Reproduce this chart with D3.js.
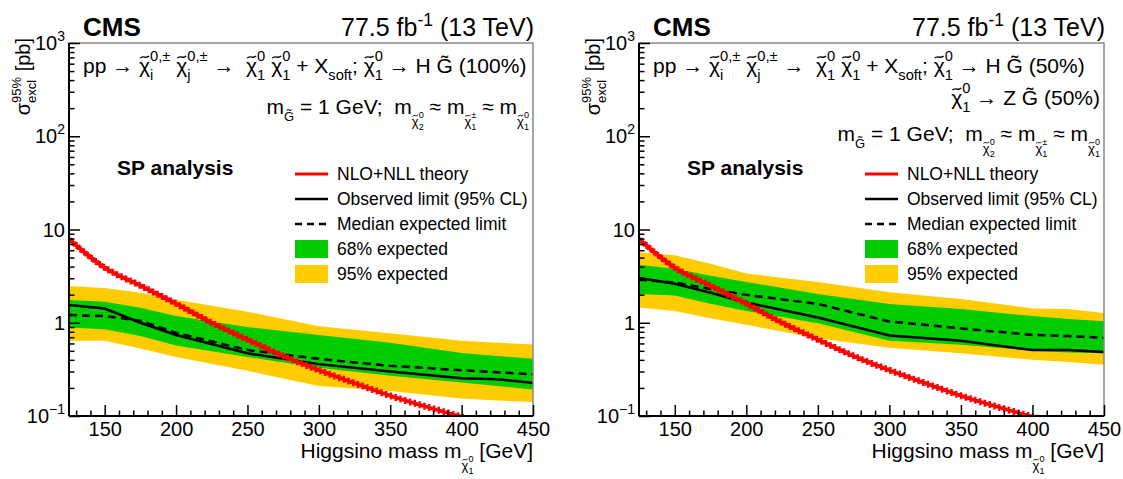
<!DOCTYPE html>
<html>
<head>
<meta charset="utf-8">
<script src="https://cdn.jsdelivr.net/npm/d3@7"></script>
<style>
  body { margin: 0; background: #fff; }
  text { font-family: "Liberation Sans", Arial, Helvetica, sans-serif; fill: #000; }
</style>
</head>
<body>
<script>
// Punti di massa (GeV) per i limiti
var mass = [125, 150, 175, 200, 250, 300, 350, 400, 425, 450];

// Pannello sinistro: H G~ (100%)
var obsL = [1.55, 1.42, 1.0, 0.74, 0.47, 0.36, 0.30, 0.254, 0.248, 0.226];
var expL = [1.21, 1.18, 1.05, 0.78, 0.51, 0.41, 0.345, 0.31, 0.295, 0.28];
var up1L = [1.75, 1.68, 1.45, 1.18, 0.90, 0.74, 0.61, 0.475, 0.44, 0.41];
var dn1L = [0.89, 0.85, 0.72, 0.57, 0.43, 0.33, 0.27, 0.228, 0.21, 0.192];
var up2L = [2.48, 2.36, 2.1, 1.77, 1.31, 0.92, 0.77, 0.64, 0.61, 0.586];
var dn2L = [0.64, 0.64, 0.53, 0.43, 0.305, 0.21, 0.185, 0.154, 0.147, 0.141];

// Pannello destro: H G~ (50%), Z G~ (50%)
var obsR = [3.02, 2.62, 2.1, 1.65, 1.14, 0.73, 0.64, 0.51, 0.51, 0.485];
var expR = [2.9, 2.7, 2.3, 1.99, 1.59, 1.03, 0.87, 0.74, 0.72, 0.69];
var up1R = [4.2, 3.8, 3.2, 2.74, 2.04, 1.59, 1.4, 1.18, 1.1, 1.04];
var dn1R = [2.04, 1.96, 1.6, 1.34, 0.99, 0.64, 0.58, 0.50, 0.48, 0.47];
var up2R = [5.7, 5.3, 4.3, 3.37, 2.74, 2.13, 1.8, 1.42, 1.4, 1.27];
var dn2R = [1.46, 1.34, 1.12, 0.95, 0.68, 0.54, 0.47, 0.40, 0.38, 0.355];

// Sezione d'urto teorica NLO+NLL (pb)
var thMass = [125, 150, 175, 200, 225, 250, 275, 300, 325, 350, 375, 400, 425, 450];
var thXsec = [7.9, 3.9, 2.5, 1.6, 1.0, 0.66, 0.44, 0.31, 0.225, 0.165, 0.126, 0.098, 0.076, 0.06];

// Etichette degli assi
var xMajor = [150, 200, 250, 300, 350, 400, 450];
var yTickVals = [0.1, 1, 10, 100, 1000];
var yTickBase = ["10", "1", "10", "10", "10"];
var yTickExp = ["\u22121", "", "", "2", "3"];

var legendLabels = ["NLO+NLL theory", "Observed limit (95% CL)", "Median expected limit", "68% expected", "95% expected"];

var svg = d3.select("body").append("svg").attr("width", 1123).attr("height", 479);

// Testo con apici/pedici composto pezzo per pezzo
function rich(g, parts, x, y, size, opt) {
  opt = opt || {};
  var grp = g.append("g");
  var cx = 0;
  parts.forEach(function (p) {
    if (typeof p === "string") p = { t: p };
    var items = p.stack || [p];
    var w = 0;
    items.forEach(function (it) {
      var fs = (it.s || 1) * size, by = (it.dy || 0) * size;
      var el = grp.append("text")
        .attr("x", cx)
        .attr("y", by)
        .style("font-size", fs + "px")
        .style("font-weight", opt.bold ? "bold" : "normal")
        .style("white-space", "pre")
        .text(it.t);
      var wi = el.node().getComputedTextLength();
      if (it.tilde) {
        // tilde disegnata sopra la lettera
        var tw = fs * 0.42, a = fs * 0.055, tx = cx + (wi - tw) / 2, ty = by - fs * 0.76;
        grp.append("path")
          .attr("d", "M" + tx + "," + (ty + a) + "C" + (tx + tw / 3) + "," + (ty - 2.2 * a) + " " +
            (tx + 2 * tw / 3) + "," + (ty + 2.2 * a) + " " + (tx + tw) + "," + (ty - a))
          .attr("fill", "none").attr("stroke", "#000").attr("stroke-width", Math.max(0.8, fs * 0.065));
      }
      w = Math.max(w, wi);
    });
    cx += w;
  });
  var sh = opt.anchor === "end" ? -cx : (opt.anchor === "middle" ? -cx / 2 : 0);
  grp.attr("transform", "translate(" + x + "," + y + ")" +
    (opt.rotate ? " rotate(" + opt.rotate + ")" : "") + " translate(" + sh + ",0)");
  return cx;
}

// chi tilde con apice e pedice sovrapposti
function chi(sup, sub, s, dy) {
  s = s || 1; dy = dy || 0;
  return [{ t: "\u03c7", s: s, dy: dy, tilde: true },
    { stack: [{ t: sup, s: s * 0.7, dy: dy - 0.55 * s }, { t: sub, s: s * 0.7, dy: dy + 0.32 * s }] }];
}

function drawPanel(p) {
  var g = svg.append("g");
  var x = d3.scaleLinear().domain([125, 450]).range([p.x0, p.x1]);
  var y = d3.scaleLog().domain([0.1, 1000]).range([416, 43]);

  var clipId = "clip" + p.id;
  svg.append("clipPath").attr("id", clipId).append("rect")
    .attr("x", p.x0).attr("y", 43).attr("width", p.x1 - p.x0).attr("height", 416 - 43);
  var plot = g.append("g").attr("clip-path", "url(#" + clipId + ")");

  var band = function (lo, hi) {
    return d3.area().x(function (d, i) { return x(mass[i]); })
      .y0(function (d, i) { return y(lo[i]); })
      .y1(function (d, i) { return y(hi[i]); })(mass);
  };
  plot.append("path").attr("d", band(p.dn2, p.up2)).attr("fill", "#ffcc00");
  plot.append("path").attr("d", band(p.dn1, p.up1)).attr("fill", "#00cc00");

  var line = function (vals) {
    return d3.line().x(function (d, i) { return x(mass[i]); })
      .y(function (d, i) { return y(vals[i]); })(mass);
  };
  plot.append("path").attr("d", line(p.exp)).attr("fill", "none")
    .attr("stroke", "#000").attr("stroke-width", 2.5).attr("stroke-dasharray", "8,5");
  plot.append("path").attr("d", line(p.obs)).attr("fill", "none")
    .attr("stroke", "#000").attr("stroke-width", 2.5);

  // curva teorica con marcatori a croce
  var th = plot.append("path")
    .attr("d", d3.line().curve(d3.curveMonotoneX)
      .x(function (d, i) { return x(thMass[i]); })
      .y(function (d, i) { return y(thXsec[i]); })(thMass))
    .attr("fill", "none").attr("stroke", "#ff0000").attr("stroke-width", 2.5);
  var node = th.node(), len = node.getTotalLength();
  for (var l = 0; l <= len; l += 5) {
    var pt = node.getPointAtLength(l);
    plot.append("path")
      .attr("d", "M" + (pt.x - 3.5) + "," + pt.y + "h7M" + pt.x + "," + (pt.y - 3.5) + "v7")
      .attr("stroke", "#ff0000").attr("stroke-width", 2.4);
  }

  // cornice
  g.append("rect").attr("x", p.x0).attr("y", 43).attr("width", p.x1 - p.x0).attr("height", 373)
    .attr("fill", "none").attr("stroke", "#888").attr("stroke-width", 1.5);

  // asse x
  var xMinor = d3.range(130, 451, 10).filter(function (v) { return v % 50 !== 0; });
  var ax = g.append("g").attr("transform", "translate(0,416)");
  ax.call(d3.axisBottom(x).tickValues(xMinor).tickSize(-5.5).tickFormat(""));
  ax.append("g").call(d3.axisBottom(x).tickValues(xMajor).tickSize(-11).tickPadding(6));
  ax.selectAll(".domain").remove();
  ax.selectAll("line").attr("stroke", "#000").attr("stroke-width", 1.5);
  ax.selectAll("text").style("font-size", "20px").attr("fill", "#000");

  // asse y
  var yMinor = y.ticks().filter(function (v) { return yTickVals.indexOf(v) < 0; });
  var ay = g.append("g").attr("transform", "translate(" + p.x0 + ",0)");
  ay.call(d3.axisLeft(y).tickValues(yMinor).tickSize(-5.5).tickFormat(""));
  ay.append("g").call(d3.axisLeft(y).tickValues(yTickVals).tickSize(-11).tickFormat(""));
  ay.selectAll(".domain").remove();
  ay.selectAll("line").attr("stroke", "#000").attr("stroke-width", 1.5);
  yTickVals.forEach(function (v, i) {
    var parts = [yTickBase[i]];
    if (yTickExp[i]) parts.push({ t: yTickExp[i], s: 0.7, dy: -0.45 });
    rich(g, parts, p.x0 - 4, y(v) + 7, 20, { anchor: "end" });
  });

  g.append("line").attr("x1", p.x0).attr("x2", p.x1).attr("y1", 416).attr("y2", 416)
    .attr("stroke", "#000").attr("stroke-width", 2);
  g.append("line").attr("x1", p.x0).attr("x2", p.x0).attr("y1", 43).attr("y2", 416)
    .attr("stroke", "#000").attr("stroke-width", 2);

  // titoli degli assi
  rich(g, ["\u03c3", { stack: [{ t: "95%", s: 0.65, dy: -0.45 }, { t: "excl", s: 0.65, dy: 0.3 }] }, " [pb]"],
    p.x0 - 39, 38, 20, { anchor: "end", rotate: -90 });
  rich(g, ["Higgsino mass m"].concat(chi("0", "1", 0.62, 0.55), [" [GeV]"]),
    p.x1, 458, 21, { anchor: "end" });

  // intestazione
  rich(g, ["CMS"], p.x0 + 14, 36, 26, { bold: true });
  rich(g, ["77.5 fb", { t: "-1", s: 0.7, dy: -0.42 }, " (13 TeV)"], p.x1 + 1, 36, 25, { anchor: "end" });

  p.header.forEach(function (h) {
    rich(g, h.parts, h.anchor === "end" ? p.x1 - 4 : p.x0 + 14, h.y, 21, { anchor: h.anchor });
  });

  rich(g, ["SP analysis"], p.x0 + 48, 175, 21, { bold: true });

  // legenda
  var lx = p.x0 + 226, rows = [174, 199, 224, 249, 274];
  legendLabels.forEach(function (lab, i) {
    var ry = rows[i];
    if (i === 0) {
      g.append("line").attr("x1", lx).attr("x2", lx + 33).attr("y1", ry).attr("y2", ry)
        .attr("stroke", "#ff0000").attr("stroke-width", 3);
    } else if (i < 3) {
      g.append("line").attr("x1", lx).attr("x2", lx + 33).attr("y1", ry).attr("y2", ry)
        .attr("stroke", "#000").attr("stroke-width", 2.5)
        .attr("stroke-dasharray", i === 2 ? "7,5" : null);
    } else {
      g.append("rect").attr("x", lx).attr("y", ry - 9).attr("width", 33).attr("height", 18)
        .attr("fill", i === 3 ? "#00cc00" : "#ffcc00");
    }
    rich(g, [lab], lx + 42, ry + 6, 17.5);
  });
}

var chiPair = ["pp \u2192 "].concat(chi("0,\u00b1", "i"), [" "], chi("0,\u00b1", "j"), [" \u2192  "],
  chi("0", "1"), [" "], chi("0", "1"), [" + X", { t: "soft", s: 0.7, dy: 0.32 }, "; "], chi("0", "1"));
var massLine = ["m", { t: "G\u0303", s: 0.62, dy: 0.35 }, " = 1 GeV;  m"].concat(
  chi("0", "2", 0.62, 0.55), [" \u2248 m"], chi("\u00b1", "1", 0.62, 0.55), [" \u2248 m"], chi("0", "1", 0.62, 0.55));

drawPanel({
  id: "L", x0: 69, x1: 533,
  obs: obsL, exp: expL, up1: up1L, dn1: dn1L, up2: up2L, dn2: dn2L,
  header: [
    { parts: chiPair.concat([" \u2192 H G\u0303 (100%)"]), y: 73, anchor: "start" },
    { parts: massLine, y: 114, anchor: "end" }
  ]
});
drawPanel({
  id: "R", x0: 639, x1: 1104,
  obs: obsR, exp: expR, up1: up1R, dn1: dn1R, up2: up2R, dn2: dn2R,
  header: [
    { parts: chiPair.concat([" \u2192 H G\u0303 (50%)"]), y: 73, anchor: "start" },
    { parts: chi("0", "1").concat([" \u2192 Z G\u0303 (50%)"]), y: 105, anchor: "end" },
    { parts: massLine, y: 141, anchor: "end" }
  ]
});
</script>
</body>
</html>
